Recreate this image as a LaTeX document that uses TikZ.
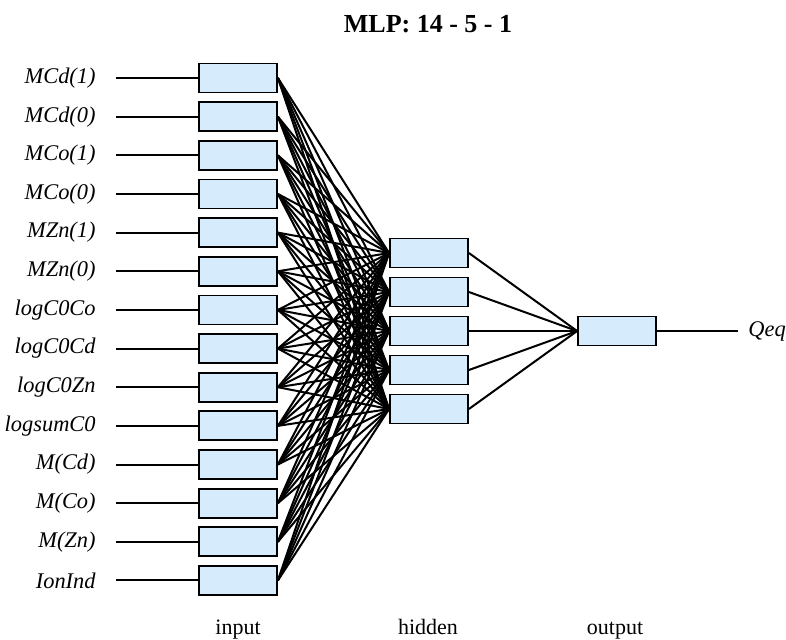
\documentclass[tikz,border=0pt]{standalone}
\usepackage{fontspec}
\setmainfont{Liberation Serif}
\usetikzlibrary{positioning}
\definecolor{cellblue}{RGB}{214,236,252}
\tikzset{
  neuron/.style={draw=black, fill=cellblue, line width=0.9pt, minimum width=39pt, minimum height=14.5pt, inner sep=0pt},
  wire/.style={line width=1pt},
  varlabel/.style={font=\fontsize{11.2}{13}\selectfont\itshape, anchor=east, inner sep=0pt},
}

\begin{document}
\begin{tikzpicture}[x=0.5pt, y=-0.5pt, font=\fontsize{11}{13}\selectfont]
\useasboundingbox (0,0) rectangle (786,639);

% Titre
\node[font=\fontsize{13}{15}\selectfont\bfseries, anchor=base, inner sep=0pt] (title) at (428,32) {MLP: 14 - 5 - 1};

% Couche d'entrée : 14 variables
\foreach \name [count=\i] in {MCd(1), MCd(0), MCo(1), MCo(0), MZn(1), MZn(0), logC0Co, logC0Cd, logC0Zn, logsumC0, M(Cd), M(Co), M(Zn), IonInd} {
  \node[neuron] (in\i) at (238, {78+38.65*(\i-1)}) {};
  \node[varlabel] (lab\i) at (96, {78+38.65*(\i-1)}) {\name};
  \coordinate (stub\i) at (116, {78+38.65*(\i-1)});
  \draw[wire] (stub\i) -- (in\i.west);
}

% Couche cachée : 5 neurones
\foreach \j in {1,...,5}
  \node[neuron] (hid\j) at (429, {253+39*(\j-1)}) {};

% Toutes les connexions entrée -> cachée
\foreach \i in {1,...,14}
  \foreach \j in {1,...,5}
    \draw[wire] (in\i.east) -- (hid\j.west);

% Sortie
\node[neuron] (out) at (617,331) {};
\foreach \j in {1,...,5}
  \draw[wire] (hid\j.east) -- (out.west);
\coordinate (qend) at (738,331);
\draw[wire] (out.east) -- (qend);
\node[varlabel, anchor=west] (qeq) at (748,331) {Qeq};

% Noms des couches
\node[anchor=base, inner sep=0pt] (inname) at (238,634) {input};
\node[anchor=base, inner sep=0pt] (hidname) at (428,634) {hidden};
\node[anchor=base, inner sep=0pt] (outname) at (615,634) {output};
\end{tikzpicture}
\end{document}
